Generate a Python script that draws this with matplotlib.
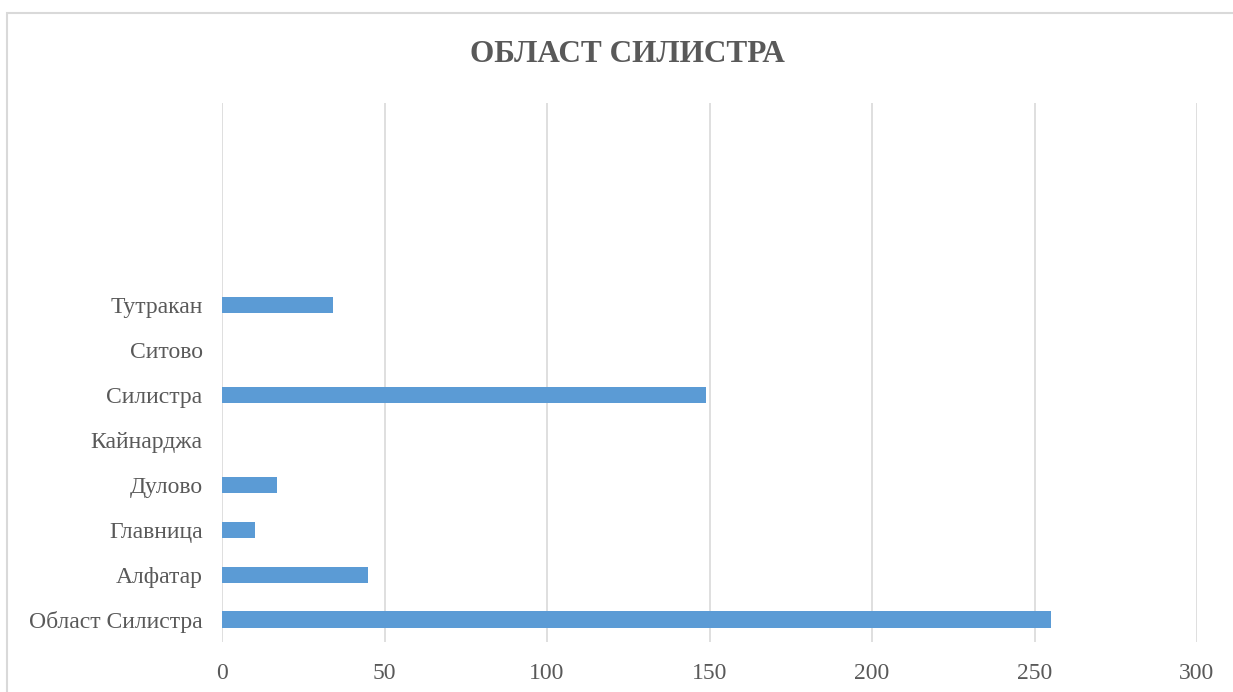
import matplotlib.pyplot as plt
from matplotlib.patches import Rectangle

plt.rcParams["font.family"] = ["Liberation Serif", "DejaVu Serif"]

# Categories from bottom to top, as drawn
CATEGORIES = ["Област Силистра", "Алфатар", "Главница", "Дулово",
              "Кайнарджа", "Силистра", "Ситово", "Тутракан"]
VALUES = [255, 45, 10, 17, 0, 149, 0, 34]
N_EMPTY = 4          # blank category slots above the last bar
X_TICKS = [0, 50, 100, 150, 200, 250, 300]
TITLE = "ОБЛАСТ СИЛИСТРА"

TEXT = "#595959"
GRID = "#d9d9d9"
BAR = "#5b9bd5"

fig = plt.figure(figsize=(12.33, 6.92), dpi=100)
fig.patches.append(Rectangle((7 / 1233, -0.1), 1.2, 1 - 13 / 692 + 0.1,
                             transform=fig.transFigure, fill=False,
                             edgecolor=GRID, linewidth=1.5))

ax = fig.add_axes([222 / 1233, 1 - 642 / 692, 975 / 1233, 539 / 692])
labels = CATEGORIES + [""] * N_EMPTY
ypos = list(range(len(labels)))
ax.barh(ypos[:len(VALUES)], VALUES, height=0.36, color=BAR, zorder=3)

ax.set_xlim(X_TICKS[0], X_TICKS[-1])
ax.set_ylim(-0.5, len(labels) - 0.5)
ax.set_xticks(X_TICKS)
ax.set_yticks(ypos)
ax.set_yticklabels(labels)
ax.tick_params(axis="both", length=0, colors=TEXT, labelsize=17)
ax.tick_params(axis="x", pad=15)
ax.tick_params(axis="y", pad=14)
ax.grid(axis="x", color=GRID, linewidth=1.2, zorder=0)
for s in ax.spines.values():
    s.set_visible(False)

fig.text(627 / 1233, 1 - 55 / 692, TITLE, ha="center", va="center",
         fontsize=22.5, fontweight="bold", color=TEXT)

fig.savefig("out.png", dpi=100)
